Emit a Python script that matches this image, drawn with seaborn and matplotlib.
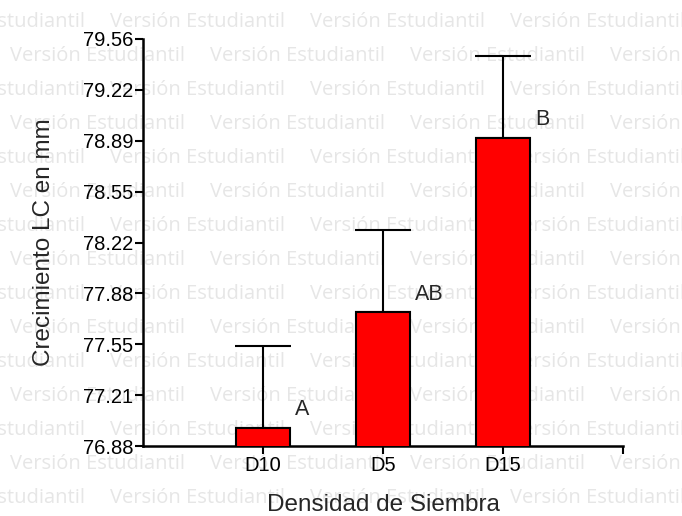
import matplotlib
matplotlib.use("Agg")
import matplotlib.pyplot as plt
import numpy as np
import pandas as pd
import seaborn as sns

# Data
categories = ["D10", "D5", "D15"]
means = [77.00, 77.76, 78.91]
errors = [0.54, 0.54, 0.54]
letters = ["A", "AB", "B"]
y_ticks = [76.88, 77.215, 77.55, 77.885, 78.22, 78.555, 78.89, 79.225, 79.56]
y_tick_labels = ["76.88", "77.21", "77.55", "77.88", "78.22", "78.55", "78.89", "79.22", "79.56"]

sns.set_style("ticks")
plt.rcParams["font.family"] = ["Liberation Sans", "DejaVu Sans"]

W, H = 682, 516
fig = plt.figure(figsize=(W / 100, H / 100), dpi=100)
fig.patch.set_facecolor("white")

# "Versión Estudiantil" watermark rows behind the plot
for r in range(15):
    y_px = 22 + r * 34
    x0 = -90 if r % 2 == 0 else 10
    for k in range(5):
        fig.text((x0 + k * 200) / W, 1 - y_px / H, "Versión Estudiantil",
                 fontsize=14.5, color="#e6e6e6", family=["Open Sans", "DejaVu Sans"],
                 ha="left", va="center", zorder=-5)

ax = fig.add_axes([143 / W, (H - 446) / H, 480 / W, 407 / H])
ax.patch.set_visible(False)

df = pd.DataFrame({"cat": categories, "val": means})
sns.barplot(data=df, x="cat", y="val", color="#ff0000", edgecolor="black",
            linewidth=1.5, width=0.45, saturation=1, ax=ax, zorder=3)
ax.errorbar(np.arange(len(categories)), means, yerr=[np.zeros(len(errors)), errors],
            fmt="none", ecolor="black", elinewidth=1.5, capsize=20.5, capthick=1.5, zorder=2)

for i, (m, lab) in enumerate(zip(means, letters)):
    ax.text(i + 0.27, m + 0.12, lab, fontsize=15.5, ha="left", va="center")

ax.set_xlim(-1, 3)
ax.set_ylim(76.88, 79.56)
ax.set_xticks([0, 1, 2, 3])
ax.set_xticklabels(categories + [""], fontsize=14.5)
ax.set_yticks(y_ticks)
ax.set_yticklabels(y_tick_labels, fontsize=14.5)
ax.tick_params(axis="both", width=1.5, length=6, pad=1, colors="black")
for s in ["top", "right"]:
    ax.spines[s].set_visible(False)
for s in ["left", "bottom"]:
    ax.spines[s].set_linewidth(1.8)
    ax.spines[s].set_color("black")

ax.set_xlabel("Densidad de Siembra", fontsize=17.5, labelpad=14)
ax.set_ylabel("Crecimiento LC en mm", fontsize=17.5, labelpad=20)

fig.savefig("out.png", dpi=100)
